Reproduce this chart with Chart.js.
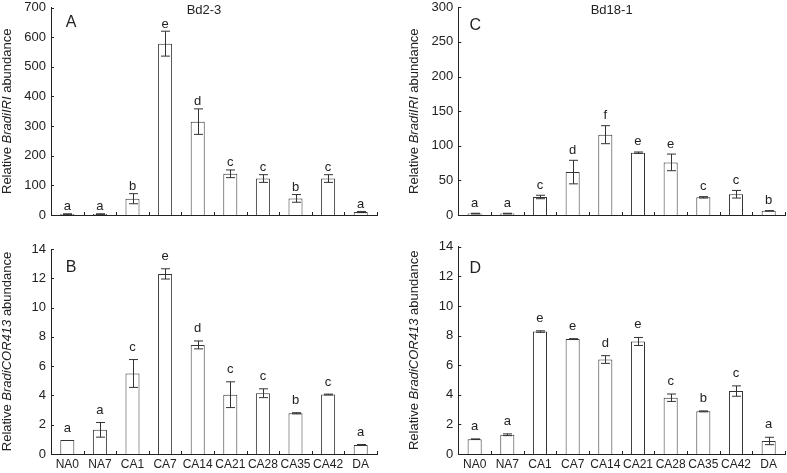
<!DOCTYPE html>
<html>
<head>
<meta charset="utf-8">
<script src="https://cdn.jsdelivr.net/npm/chart.js@4.4.0/dist/chart.umd.min.js"></script>
<style>
  body { margin: 0; background: #fff; }
  .panel { position: absolute; }
</style>
</head>
<body>
<div class="panel" style="left:0;top:0;width:390px;height:225px"><canvas id="chartA"></canvas></div>
<div class="panel" style="left:0;top:225px;width:390px;height:248px"><canvas id="chartB"></canvas></div>
<div class="panel" style="left:390px;top:0;width:397px;height:225px"><canvas id="chartC"></canvas></div>
<div class="panel" style="left:390px;top:225px;width:397px;height:248px"><canvas id="chartD"></canvas></div>
<script>
const categories = ['NA0', 'NA7', 'CA1', 'CA7', 'CA14', 'CA21', 'CA28', 'CA35', 'CA42', 'DA'];

// Bd2-3, BradiIRI
const iriBd23 = [3, 3, 55, 578, 315, 139, 123, 56, 123, 10];
const iriBd23Err = [1, 1, 17, 42, 43, 13, 13, 13, 13, 2];
const iriBd23Letters = ['a', 'a', 'b', 'e', 'd', 'c', 'c', 'b', 'c', 'a'];

// Bd2-3, BradiCOR413
const corBd23 = [0.95, 1.65, 5.5, 12.3, 7.45, 4.05, 4.15, 2.78, 4.06, 0.62];
const corBd23Err = [0, 0.5, 0.95, 0.35, 0.27, 0.88, 0.3, 0.04, 0.03, 0.03];
const corBd23Letters = ['a', 'a', 'c', 'e', 'd', 'c', 'c', 'b', 'c', 'a'];

// Bd18-1, BradiIRI
const iriBd181 = [2, 2, 26, 62, 116, 90, 76, 25.5, 30, 6];
const iriBd181Err = [0.5, 0.5, 2.5, 17, 13, 1, 12, 1, 5.5, 0.3];
const iriBd181Letters = ['a', 'a', 'c', 'd', 'f', 'e', 'e', 'c', 'c', 'b'];

// Bd18-1, BradiCOR413
const corBd181 = [1.0, 1.3, 8.27, 7.76, 6.38, 7.6, 3.8, 2.88, 4.25, 0.88];
const corBd181Err = [0.02, 0.06, 0.05, 0.03, 0.26, 0.27, 0.25, 0.03, 0.35, 0.25];
const corBd181Letters = ['a', 'a', 'e', 'e', 'd', 'e', 'c', 'b', 'c', 'a'];

const iriAxisMaxA = 700, iriStepA = 100;
const iriAxisMaxC = 300, iriStepC = 50;
const corAxisMax = 14, corStep = 2;

const FONT = '"Liberation Sans", Arial, Helvetica, sans-serif';
const INK = '#222';

// ticks, error bars, letters and panel labels
const panelPlugin = {
  id: 'panel',
  afterDatasetsDraw(chart, args, opts) {
    const ctx = chart.ctx;
    const ys = chart.scales.y;
    const meta = chart.getDatasetMeta(0);
    const values = chart.data.datasets[0].data;
    ctx.save();
    ctx.strokeStyle = '#333';
    ctx.lineWidth = 1;
    ctx.fillStyle = INK;
    ctx.font = '13px ' + FONT;
    ctx.textAlign = 'center';
    ctx.textBaseline = 'alphabetic';
    meta.data.forEach((bar, i) => {
      const v = values[i], e = opts.errors[i];
      const cx = Math.round(bar.x) + 0.5;
      const top = ys.getPixelForValue(v + e);
      const bot = ys.getPixelForValue(v - e);
      if (e > 0) {
        ctx.beginPath();
        ctx.moveTo(cx, top); ctx.lineTo(cx, bot);
        ctx.moveTo(cx - 4.5, top); ctx.lineTo(cx + 4.5, top);
        ctx.moveTo(cx - 4.5, bot); ctx.lineTo(cx + 4.5, bot);
        ctx.stroke();
      }
      ctx.fillText(opts.letters[i], bar.x, top - opts.gap);
    });
    ctx.restore();
  },
  afterDraw(chart, args, opts) {
    const ctx = chart.ctx;
    const a = chart.chartArea;
    const xs = chart.scales.x, ys = chart.scales.y;
    ctx.save();
    ctx.strokeStyle = INK;
    ctx.lineWidth = 1;
    ctx.beginPath();
    ys.ticks.forEach(t => {
      const py = Math.round(ys.getPixelForValue(t.value)) + 0.5;
      ctx.moveTo(a.left, py); ctx.lineTo(a.left + 3, py);
    });
    const n = chart.data.labels.length;
    for (let i = 0; i <= n; i++) {
      const px = Math.round(xs.getPixelForValue(i - 0.5)) + 0.5;
      ctx.moveTo(px, a.bottom); ctx.lineTo(px, a.bottom - 3);
    }
    ctx.stroke();

    ctx.fillStyle = INK;
    ctx.textAlign = 'center';
    ctx.textBaseline = 'middle';
    ctx.font = '16px ' + FONT;
    ctx.fillText(opts.panel, a.left + opts.panelDx, a.top + opts.panelDy);
    if (opts.title) {
      ctx.font = '13px ' + FONT;
      ctx.fillText(opts.title, (a.left + a.right) / 2 - 10, a.top + 3);
    }

    // y axis title, partly italic
    ctx.translate(a.left - 43.5, (a.top + a.bottom) / 2);
    ctx.rotate(-Math.PI / 2);
    const fontFor = p => (p[1] ? 'italic ' : '') + '13px ' + FONT;
    let total = 0;
    opts.yTitle.forEach(p => { ctx.font = fontFor(p); total += ctx.measureText(p[0]).width; });
    let cx = -total / 2;
    ctx.textAlign = 'left';
    opts.yTitle.forEach(p => {
      ctx.font = fontFor(p);
      ctx.fillText(p[0], cx, 0);
      cx += ctx.measureText(p[0]).width;
    });
    ctx.restore();
  }
};

document.addEventListener('DOMContentLoaded', function() {
  initPanel('chartA', iriBd23, iriBd23Err, iriBd23Letters, {
    max: iriAxisMaxA, step: iriStepA,
    area: {left: 51, right: 377, top: 7.5, bottom: 215},
    yWidth: 51, xHeight: 10, labels: false, gap: 3.5,
    panel: 'A', panelDx: 20, panelDy: 15, title: 'Bd2-3',
    yTitle: [['Relative ', false], ['BradiIRI', true], [' abundance', false]]
  });
  initPanel('chartB', corBd23, corBd23Err, corBd23Letters, {
    max: corAxisMax, step: corStep,
    area: {left: 51, right: 377, top: 24, bottom: 229.5},
    yWidth: 51, xHeight: 19, labels: true, gap: 8.5,
    panel: 'B', panelDx: 20, panelDy: 19, title: '',
    yTitle: [['Relative ', false], ['BradiCOR413', true], [' abundance', false]]
  });
  initPanel('chartC', iriBd181, iriBd181Err, iriBd181Letters, {
    max: iriAxisMaxC, step: iriStepC,
    area: {left: 68.3, right: 395, top: 7.3, bottom: 215},
    yWidth: 68, xHeight: 10, labels: false, gap: 6.5,
    panel: 'C', panelDx: 17, panelDy: 18, title: 'Bd18-1',
    yTitle: [['Relative ', false], ['BradiIRI', true], [' abundance', false]]
  });
  initPanel('chartD', corBd181, corBd181Err, corBd181Letters, {
    max: corAxisMax, step: corStep,
    area: {left: 68.3, right: 395, top: 21.7, bottom: 229.5},
    yWidth: 68, xHeight: 19, labels: true, gap: 9,
    panel: 'D', panelDx: 17, panelDy: 21.5, title: '',
    yTitle: [['Relative ', false], ['BradiCOR413', true], [' abundance', false]]
  });
});

function initPanel(id, values, errors, letters, cfg) {
  const el = document.getElementById(id);
  if (!el) return;

  const pad = {top: cfg.area.top, right: 0, bottom: 0, left: 0};

  const chart = new Chart(el.getContext('2d'), {
    type: 'bar',
    data: {
      labels: categories,
      datasets: [{
        data: values,
        backgroundColor: '#fff',
        borderColor: '#333',
        borderWidth: 1,
        barPercentage: 0.43,
        categoryPercentage: 1
      }]
    },
    options: {
      responsive: true,
      maintainAspectRatio: false,
      animation: false,
      layout: { padding: pad },
      plugins: {
        legend: { display: false },
        tooltip: { enabled: false },
        panel: {
          errors: errors, letters: letters, gap: cfg.gap,
          panel: cfg.panel, panelDx: cfg.panelDx, panelDy: cfg.panelDy,
          title: cfg.title, yTitle: cfg.yTitle
        }
      },
      scales: {
        x: {
          grid: { display: false, drawTicks: false },
          border: { display: true, color: INK, width: 1 },
          ticks: {
            display: cfg.labels,
            color: INK,
            font: { family: FONT, size: 12 },
            padding: 3,
            maxRotation: 0,
            autoSkip: false
          },
          afterFit: function(scale) { scale.height = cfg.xHeight; }
        },
        y: {
          min: 0,
          max: cfg.max,
          grid: { display: false, drawTicks: false },
          border: { display: true, color: INK, width: 1 },
          ticks: {
            stepSize: cfg.step,
            color: INK,
            // small lineHeight so the end labels don't push the plot area in
            font: { family: FONT, size: 13, lineHeight: 0.2 },
            padding: 5
          },
          afterFit: function(scale) { scale.width = cfg.yWidth; }
        }
      }
    },
    plugins: [panelPlugin]
  });

  // nudge the layout padding until the plot area sits where the figure has it
  for (let k = 0; k < 4; k++) {
    const ca = chart.chartArea;
    if (!ca) break;
    pad.top = Math.max(0, pad.top + cfg.area.top - ca.top);
    pad.bottom = Math.max(0, pad.bottom + ca.bottom - cfg.area.bottom);
    pad.left = Math.max(0, pad.left + cfg.area.left - ca.left);
    pad.right = Math.max(0, pad.right + ca.right - cfg.area.right);
    chart.update();
  }
}
</script>
</body>
</html>
